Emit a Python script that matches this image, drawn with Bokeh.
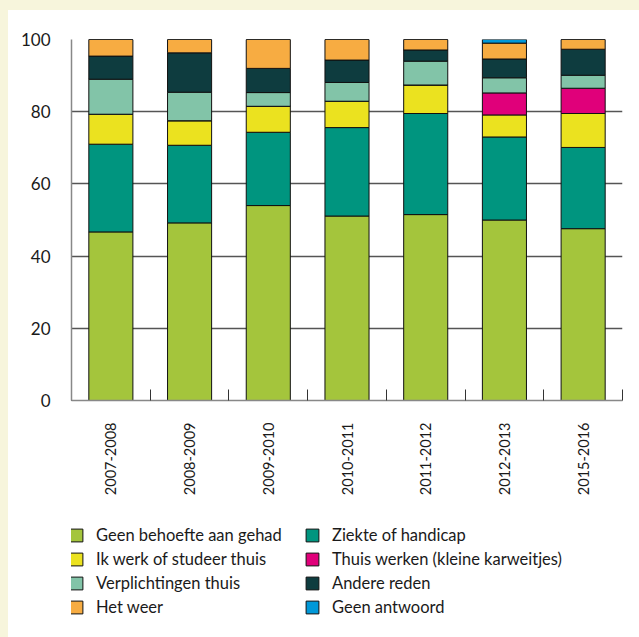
from bokeh.plotting import figure
from bokeh.layouts import column
from bokeh.models import ColumnDataSource, Range1d, FixedTicker, Legend, LegendItem
from bokeh.embed import file_html
from bokeh.resources import INLINE
import math

years = ["2007-2008", "2008-2009", "2009-2010", "2010-2011", "2011-2012", "2012-2013", "2015-2016"]

geen_behoefte = [46.7, 49.2, 54.0, 51.1, 51.5, 50.0, 47.6]
ziekte = [24.3, 21.5, 20.3, 24.5, 28.0, 23.0, 22.5]
ik_werk = [8.3, 6.8, 7.2, 7.3, 7.9, 6.1, 9.4]
thuis_werken = [0.0, 0.0, 0.0, 0.0, 0.0, 6.1, 7.0]
verplichtingen = [9.7, 7.9, 3.8, 5.2, 6.6, 4.2, 3.6]
andere = [6.4, 10.9, 6.7, 6.2, 3.1, 5.2, 7.2]
het_weer = [4.6, 3.7, 8.0, 5.7, 2.9, 4.4, 2.7]
geen_antwoord = [0.0, 0.0, 0.0, 0.0, 0.0, 1.0, 0.0]

series_names = ["Geen behoefte aan gehad", "Ziekte of handicap", "Ik werk of studeer thuis",
                "Thuis werken (kleine karweitjes)", "Verplichtingen thuis", "Andere reden",
                "Het weer", "Geen antwoord"]
series_keys = ["geen", "ziekte", "ikwerk", "thuiswerk", "verpl", "andere", "weer", "antw"]
colors = ["#a4c53c", "#00957f", "#ebe21f", "#e0007a", "#82c4a8", "#0e3c3f", "#f7ac42", "#0098d8"]

x_pos = list(range(1, len(years) + 1))
data = dict(x=x_pos, geen=geen_behoefte, ziekte=ziekte, ikwerk=ik_werk, thuiswerk=thuis_werken,
            verpl=verplichtingen, andere=andere, weer=het_weer, antw=geen_antwoord)
source = ColumnDataSource(data)

font = "Lato"
text_col = "#1a1a1a"

p = figure(width=631, height=500, output_backend="svg", toolbar_location=None,
           x_range=Range1d(0.5, len(years) + 0.5), y_range=Range1d(0, 100),
           min_border_left=63, min_border_right=17, min_border_top=29, min_border_bottom=110)
p.background_fill_color = "white"
p.border_fill_color = "white"
p.outline_line_color = None

renderers = p.vbar_stack(series_keys, x="x", width=0.56, source=source, color=colors,
                         line_color="#111111", line_width=1)

p.yaxis.ticker = FixedTicker(ticks=[0, 20, 40, 60, 80, 100])
p.yaxis.major_tick_out = 0
p.yaxis.major_tick_in = 0
p.yaxis.minor_tick_out = 0
p.yaxis.axis_line_color = "#888888"
p.yaxis.axis_line_width = 1.5
p.yaxis.major_label_text_font = font
p.yaxis.major_label_text_font_size = "17px"
p.yaxis.major_label_text_color = text_col
p.yaxis.major_label_standoff = 21

bounds = [i + 0.5 for i in range(0, len(years) + 1)]
p.xaxis.ticker = FixedTicker(ticks=x_pos, minor_ticks=bounds)
p.xaxis.major_label_overrides = {i: y for i, y in zip(x_pos, years)}
p.xaxis.major_label_orientation = math.pi / 2
p.xaxis.major_tick_out = 0
p.xaxis.major_tick_in = 0
p.xaxis.minor_tick_in = 11
p.xaxis.minor_tick_out = 0
p.xaxis.minor_tick_line_color = "#333333"
p.xaxis.axis_line_color = "#888888"
p.xaxis.axis_line_width = 1.5
p.xaxis.major_label_text_font = font
p.xaxis.major_label_text_font_size = "14.5px"
p.xaxis.major_label_text_color = text_col
p.xaxis.major_label_standoff = 22

p.xgrid.grid_line_color = None
p.ygrid.ticker = FixedTicker(ticks=[20, 40, 60, 80, 100])
p.ygrid.grid_line_color = "#555555"
p.ygrid.grid_line_width = 1.3

# legend panel: a separate figure below the chart; its ranges keep its own copies
# of the bars out of view so that only the legend is visible
leg = figure(width=631, height=127, output_backend="svg", toolbar_location=None,
             x_range=Range1d(100, 101), y_range=Range1d(100, 101),
             x_axis_location=None, y_axis_location=None,
             min_border_left=63, min_border_right=17, min_border_top=0, min_border_bottom=0)
leg.background_fill_alpha = 0
leg.border_fill_color = "white"
leg.outline_line_color = None
leg.xgrid.visible = False
leg.ygrid.visible = False

leg_renderers = leg.vbar_stack(series_keys, x="x", width=0.56, source=source, color=colors,
                               line_color="#111111", line_width=1)

order = [0, 2, 4, 6, 1, 3, 5, 7]
items = [LegendItem(label=series_names[i], renderers=[leg_renderers[i]]) for i in order]
legend = Legend(items=items, orientation="vertical", nrows=4, location=(-3, 20),
                glyph_width=16, glyph_height=16, label_standoff=12, label_height=20,
                label_width=204, spacing=4, padding=0, margin=0, border_line_color=None,
                background_fill_alpha=0,
                label_text_font=font, label_text_font_size="16.5px", label_text_color=text_col)
leg.add_layout(legend, "center")

layout = column(p, leg, spacing=0)

html = file_html(layout, INLINE)
html = html.replace("</head>",
                    "<style>html { background-color: #ffffff !important; }"
                    " body { background-color: #ffffff !important; margin: 0 !important;"
                    " padding: 0 !important; border-left: 8px solid #f7f5dc;"
                    " border-top: 10px solid #f7f5dc; }</style></head>", 1)
open("out.html", "w").write(html)
